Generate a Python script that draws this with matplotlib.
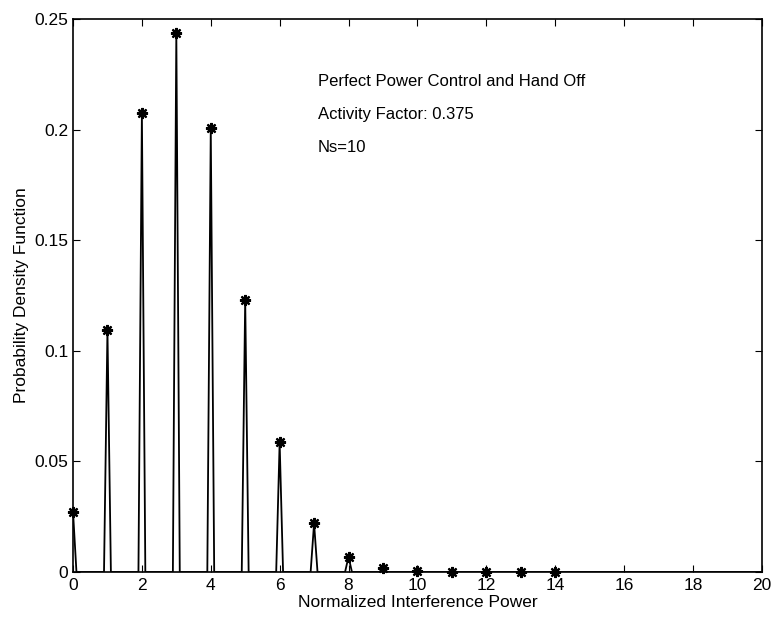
import numpy as np
import matplotlib
matplotlib.use("Agg")
import matplotlib.pyplot as plt

plt.rcParams['font.family'] = ['Liberation Sans', 'DejaVu Sans']

# PDF of normalized interference power
k = [0, 1, 2, 3, 4, 5, 6, 7, 8, 9, 10, 11, 12, 13, 14]
pdf = [0.0273, 0.1094, 0.2076, 0.2438, 0.2006, 0.123, 0.0586, 0.022,
       0.0069, 0.0019, 0.0005, 0.0001, 0.00003, 0.00001, 0.0]

notes = ["Perfect Power Control and Hand Off", "Activity Factor: 0.375", "Ns=10"]

fig = plt.figure(figsize=(7.71, 6.19), dpi=100)
ax = fig.add_axes([0.0947, 0.0759, 0.8933, 0.8931])

# narrow triangular spikes around each integer
xs, ys = [0.0], [0.0]
for kk, p in zip(k, pdf):
    xs += [kk - 0.1, kk, kk + 0.1]
    ys += [0.0, p, 0.0]
xs.append(20.0)
ys.append(0.0)
ax.plot(xs, ys, color='black', linewidth=1.3)
ax.plot(k, pdf, linestyle='none', marker=(8, 2, 0), markersize=8,
        markeredgewidth=1.6, color='black', clip_on=False)

ax.set_xlim(0, 20)
ax.set_ylim(0, 0.25)
ax.set_xticks(np.arange(0, 21, 2))
ax.set_yticks([0, 0.05, 0.1, 0.15, 0.2, 0.25])
ax.set_yticklabels(['0', '0.05', '0.1', '0.15', '0.2', '0.25'])
ax.tick_params(direction='in', top=True, right=True, labelsize=12.5, length=5)
ax.tick_params(axis='x', pad=4)
for s in ax.spines.values():
    s.set_linewidth(1.2)

ax.set_xlabel("Normalized Interference Power", fontsize=12.5, labelpad=2)
ax.set_ylabel("Probability Density Function", fontsize=12.5, labelpad=4)

for i, t in enumerate(notes):
    ax.text(7.1, 0.222 - 0.015 * i, t, fontsize=12, va='center')

fig.savefig("out.png", dpi=100)
